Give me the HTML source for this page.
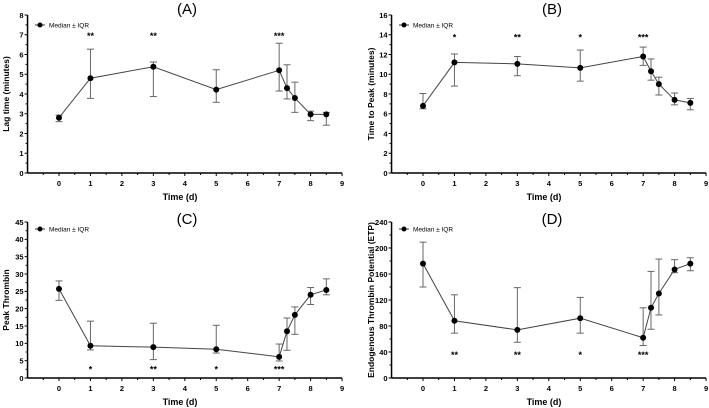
<!DOCTYPE html>
<html><head><meta charset="utf-8"><style>
body{margin:0;background:#fff}
svg{display:block;font-family:"Liberation Sans",Arial,sans-serif}
</style></head><body>
<svg id="chart" width="709" height="408" viewBox="0 0 709 408" xmlns="http://www.w3.org/2000/svg"></svg>
<script>
const days=[0,1,3,5,7,7.25,7.5,8,8.5];
const aMed=[2.8,4.8,5.38,4.22,5.2,4.3,3.8,2.97,2.97];
const aLow=[2.6,3.78,3.87,3.58,4.15,3.75,3.07,2.65,2.42];
const aUp=[2.93,6.27,5.62,5.23,6.57,5.48,4.6,3.13,3.07];
const bMed=[6.8,11.2,11.05,10.65,11.8,10.3,9.0,7.4,7.1];
const bLow=[6.5,8.8,9.85,9.3,10.9,9.4,7.9,6.9,6.4];
const bUp=[8.05,12.05,11.8,12.45,12.75,11.55,9.7,8.1,7.55];
const cMed=[25.7,9.3,8.9,8.3,6.1,13.5,18.2,24.0,25.4];
const cLow=[22.4,8.1,5.3,7.2,4.9,8.0,12.6,21.2,24.0];
const cUp=[28,16.4,15.8,15.2,9.8,17.3,20.5,26.1,28.6];
const dMed=[176,88,74,92,62,108,130,167,176];
const dLow=[140,69,55,69,50,75,97,162,165];
const dUp=[209,128,139,124,108,164,183,182,185];
const starDays=[1,3,5,7];
const aStars=["**","**","","***"];
const bStars=["*","**","*","***"];
const cStars=["*","**","*","***"];
const dStars=["**","**","*","***"];
const xTicks=[0,1,2,3,4,5,6,7,8,9];
const aTicks=[0,1,2,3,4,5,6,7,8];
const bTicks=[0,2,4,6,8,10,12,14,16];
const cTicks=[0,5,10,15,20,25,30,35,40,45];
const dTicks=[0,40,80,120,160,200,240];

const svg=document.getElementById('chart');
const NS='http://www.w3.org/2000/svg';
function mk(tag,attrs,parent,text){const e=document.createElementNS(NS,tag);for(const k in attrs)e.setAttribute(k,attrs[k]);if(text!==undefined)e.textContent=text;parent.appendChild(e);return e;}

function panel(o){
  const g=mk('g',{},svg);
  
  
  const ymax=o.yTicks[o.yTicks.length-1];
  const xs=v=>o.x0+(v)*31.45;
  const ys=v=>o.yBot-(v/ymax)*(o.yBot-o.yTop);
  const axX=xs(-1);
  // axes
  const yax=mk('line',{x1:axX,y1:o.yTop,x2:axX,y2:o.yBot,stroke:'#000','stroke-width':1.5},g);
  
  const xax=mk('line',{x1:axX,y1:o.yBot,x2:xs(9),y2:o.yBot,stroke:'#000','stroke-width':1.5},g);
  
  o.yTicks.forEach((t,i)=>{
    mk('line',{x1:axX-3,y1:ys(t),x2:axX,y2:ys(t),stroke:'#000','stroke-width':1},g);
    const l=mk('text',{x:axX-4,y:ys(t)+2.8,'font-size':7.5,'font-weight':'bold','text-anchor':'end'},g,t);
    
    if(i<o.yTicks.length-1){const m=(t+o.yTicks[i+1])/2;mk('line',{x1:axX-2,y1:ys(m),x2:axX,y2:ys(m),stroke:'#000','stroke-width':1},g);}
  });
  xTicks.forEach(t=>{
    mk('line',{x1:xs(t),y1:o.yBot,x2:xs(t),y2:o.yBot+3,stroke:'#000','stroke-width':1},g);
    mk('line',{x1:xs(t-0.5),y1:o.yBot,x2:xs(t-0.5),y2:o.yBot+2,stroke:'#000','stroke-width':1},g);
    const l=mk('text',{x:xs(t),y:o.yBot+13,'font-size':7.5,'font-weight':'bold','text-anchor':'middle'},g,t);
    
  });
  const xt=mk('text',{x:o.xTitleX,y:o.yBot+27,'font-size':9,'font-weight':'bold','text-anchor':'middle'},g,'Time (d)');
  
  const yc=(o.yTop+o.yBot)/2;
  const yt=mk('text',{x:o.yTitleX,y:yc,'font-size':8.5,'font-weight':'bold','text-anchor':'middle',transform:`rotate(-90 ${o.yTitleX} ${yc})`},g,o.yTitle);
  
  const tt=mk('text',{x:o.titleX,y:o.titleY,'font-size':15,'text-anchor':'middle'},g,o.title);
  
  // legend
  const lg=mk('g',{},g);
  
  mk('line',{x1:o.legX-5,y1:o.legY,x2:o.legX+5,y2:o.legY,stroke:'#333','stroke-width':1},lg);
  mk('circle',{cx:o.legX,cy:o.legY,r:2.5,fill:'#000'},lg);
  mk('text',{x:o.legX+9,y:o.legY+2.5,'font-size':6.5},lg,'Median ± IQR');
  // line
  const pts=days.map((d,i)=>xs(d)+','+ys(o.med[i])).join(' ');
  const pl=mk('polyline',{points:pts,fill:'none',stroke:'#444','stroke-width':1},g);
  
  days.forEach((d,i)=>{
    const x=xs(d);
    const eb=mk('g',{stroke:'#666','stroke-width':1},g);
    
    mk('line',{x1:x,y1:ys(o.low[i]),x2:x,y2:ys(o.up[i])},eb);
    mk('line',{x1:x-3.5,y1:ys(o.low[i]),x2:x+3.5,y2:ys(o.low[i])},eb);
    mk('line',{x1:x-3.5,y1:ys(o.up[i]),x2:x+3.5,y2:ys(o.up[i])},eb);
    const c=mk('circle',{cx:x,cy:ys(o.med[i]),r:3,fill:'#000'},g);
    
  });
  starDays.forEach((d,i)=>{
    if(!o.stars[i])return;
    const s=mk('text',{x:xs(d),y:ys(o.starY)+4,'font-size':9,'font-weight':'bold','text-anchor':'middle'},g,o.stars[i]);
    
  });
}
panel({name:'panel-a-lag-time',x0:59,yTop:15,yBot:173,yTicks:aTicks,med:aMed,low:aLow,up:aUp,stars:aStars,starY:7,title:'(A)',titleX:187,titleY:14,xTitleX:180,yTitleX:9,yTitle:'Lag time (minutes)',legX:40,legY:25});
panel({name:'panel-b-time-to-peak',x0:423,yTop:15,yBot:173,yTicks:bTicks,med:bMed,low:bLow,up:bUp,stars:bStars,starY:13.8,title:'(B)',titleX:552,titleY:14,xTitleX:544,yTitleX:374,yTitle:'Time to Peak (minutes)',legX:404,legY:25});
panel({name:'panel-c-peak-thrombin',x0:59,yTop:222,yBot:378,yTicks:cTicks,med:cMed,low:cLow,up:cUp,stars:cStars,starY:2.7,title:'(C)',titleX:187,titleY:224,xTitleX:180,yTitleX:9,yTitle:'Peak Thrombin',legX:40,legY:229});
panel({name:'panel-d-etp',x0:423,yTop:222,yBot:378,yTicks:dTicks,med:dMed,low:dLow,up:dUp,stars:dStars,starY:37,title:'(D)',titleX:552,titleY:224,xTitleX:544,yTitleX:374,yTitle:'Endogenous Thrombin Potential (ETP)',legX:404,legY:229});
</script>
</body></html>
